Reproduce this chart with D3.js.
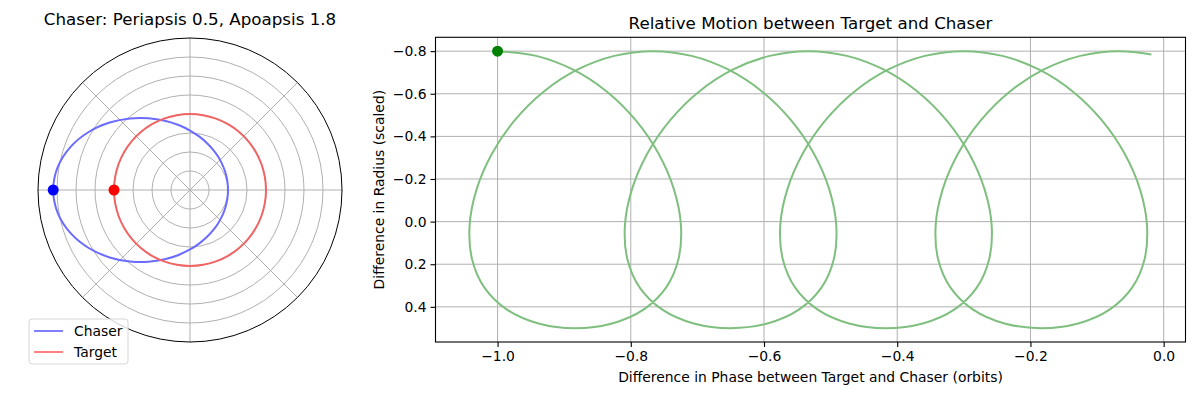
<!DOCTYPE html>
<html>
<head>
<meta charset="utf-8">
<script src="https://cdn.jsdelivr.net/npm/d3@7"></script>
<style>
  body { margin: 0; background: #fff; }
  svg { font-family: "DejaVu Sans", sans-serif; }
</style>
</head>
<body>
<div id="chart"></div>
<script>
// Polar plot data (angle in degrees, radius)
const orbitAngles = d3.range(0, 360, 10);
const chaserRadius = [0.5, 0.5028, 0.5111, 0.5254, 0.5461, 0.5740, 0.6102, 0.6558, 0.7127,
  0.7826, 0.8678, 0.9702, 1.0909, 1.2292, 1.3802, 1.5330, 1.6691, 1.7651,
  1.8, 1.7651, 1.6691, 1.5330, 1.3802, 1.2292, 1.0909, 0.9702, 0.8678,
  0.7826, 0.7127, 0.6558, 0.6102, 0.5740, 0.5461, 0.5254, 0.5111, 0.5028];
const targetRadius = orbitAngles.map(() => 1);
const chaserStart = { angle: 180, r: 1.8 };
const targetStart = { angle: 180, r: 1.0 };
const ringTicks = [0.25, 0.5, 0.75, 1.0, 1.25, 1.5, 1.75];
const spokeAngles = [0, 45, 90, 135, 180, 225, 270, 315];

// Relative motion data
const phaseDiff = [
  -1.0000, -0.9420, -0.8864, -0.8358, -0.7924, -0.7582, -0.7351, -0.7247, -0.7284, -0.7471, -0.7810, -0.8281,
  -0.8834, -0.9386, -0.9858, -1.0197, -1.0384, -1.0420, -1.0316, -1.0085, -0.9744, -0.9309, -0.8803, -0.8248,
  -0.7668, -0.7087, -0.6532, -0.6026, -0.5592, -0.5250, -0.5019, -0.4915, -0.4951, -0.5138, -0.5477, -0.5949,
  -0.6501, -0.7054, -0.7526, -0.7865, -0.8052, -0.8088, -0.7984, -0.7753, -0.7411, -0.6977, -0.6471, -0.5916,
  -0.5335, -0.4755, -0.4199, -0.3693, -0.3259, -0.2918, -0.2687, -0.2582, -0.2619, -0.2806, -0.3145, -0.3617,
  -0.4169, -0.4722, -0.5193, -0.5532, -0.5719, -0.5756, -0.5651, -0.5420, -0.5079, -0.4645, -0.4139, -0.3583,
  -0.3003, -0.2422, -0.1867, -0.1361, -0.0927, -0.0585, -0.0354, -0.0250, -0.0286, -0.0474, -0.0813, -0.1284,
  -0.1837, -0.2389, -0.2861, -0.3200, -0.3387, -0.3423, -0.3319, -0.3088, -0.2746, -0.2312, -0.1806, -0.1251,
  -0.0670, -0.0184];
const radiusDiff = [
  -0.8000, -0.7779, -0.7129, -0.6096, -0.4750, -0.3182, -0.1500, 0.0182, 0.1750, 0.3096, 0.4129, 0.4779,
  0.5000, 0.4779, 0.4129, 0.3096, 0.1750, 0.0182, -0.1500, -0.3182, -0.4750, -0.6096, -0.7129, -0.7779,
  -0.8000, -0.7779, -0.7129, -0.6096, -0.4750, -0.3182, -0.1500, 0.0182, 0.1750, 0.3096, 0.4129, 0.4779,
  0.5000, 0.4779, 0.4129, 0.3096, 0.1750, 0.0182, -0.1500, -0.3182, -0.4750, -0.6096, -0.7129, -0.7779,
  -0.8000, -0.7779, -0.7129, -0.6096, -0.4750, -0.3182, -0.1500, 0.0182, 0.1750, 0.3096, 0.4129, 0.4779,
  0.5000, 0.4779, 0.4129, 0.3096, 0.1750, 0.0182, -0.1500, -0.3182, -0.4750, -0.6096, -0.7129, -0.7779,
  -0.8000, -0.7779, -0.7129, -0.6096, -0.4750, -0.3182, -0.1500, 0.0182, 0.1750, 0.3096, 0.4129, 0.4779,
  0.5000, 0.4779, 0.4129, 0.3096, 0.1750, 0.0182, -0.1500, -0.3182, -0.4750, -0.6096, -0.7129, -0.7779,
  -0.8000, -0.7845];
const xTicks = [-1.0, -0.8, -0.6, -0.4, -0.2, 0.0];
const yTicks = [-0.8, -0.6, -0.4, -0.2, 0.0, 0.2, 0.4];

const svg = d3.select("#chart").append("svg")
  .attr("width", 1200).attr("height", 400);

const gridColor = "#b0b0b0";

// ---------- Left: polar plot ----------
const cx = 190, cy = 190, outerR = 152;
const r = d3.scaleLinear().domain([0, 2]).range([0, outerR]);
const toRad = deg => (90 - deg) * Math.PI / 180; // matplotlib angle -> d3 radial angle

const polar = svg.append("g").attr("transform", `translate(${cx},${cy})`);

polar.selectAll("circle.ring")
  .data(ringTicks)
  .join("circle")
  .attr("class", "ring")
  .attr("r", d => r(d))
  .attr("fill", "none")
  .attr("stroke", gridColor)
  .attr("stroke-width", 1);

polar.selectAll("line.spoke")
  .data(spokeAngles)
  .join("line")
  .attr("class", "spoke")
  .attr("x1", 0).attr("y1", 0)
  .attr("x2", d => outerR * Math.cos(d * Math.PI / 180))
  .attr("y2", d => -outerR * Math.sin(d * Math.PI / 180))
  .attr("stroke", gridColor)
  .attr("stroke-width", 1);

polar.append("circle")
  .attr("r", outerR)
  .attr("fill", "none")
  .attr("stroke", "#000")
  .attr("stroke-width", 1);

const radial = d3.lineRadial()
  .angle(d => toRad(d[0]))
  .radius(d => r(d[1]))
  .curve(d3.curveCatmullRomClosed);

polar.append("path")
  .attr("d", radial(orbitAngles.map((a, i) => [a, chaserRadius[i]])))
  .attr("fill", "none")
  .attr("stroke", "#6b6bff")
  .attr("stroke-width", 2);

polar.append("path")
  .attr("d", radial(orbitAngles.map((a, i) => [a, targetRadius[i]])))
  .attr("fill", "none")
  .attr("stroke", "#f06464")
  .attr("stroke-width", 2);

const polarPoint = p => d3.pointRadial(toRad(p.angle), r(p.r));
[[chaserStart, "#0000ff"], [targetStart, "#ff0000"]].forEach(([p, c]) => {
  const [px, py] = polarPoint(p);
  polar.append("circle").attr("cx", px).attr("cy", py).attr("r", 5.5).attr("fill", c);
});

svg.append("text")
  .attr("x", cx).attr("y", 25)
  .attr("text-anchor", "middle")
  .attr("font-size", 16.7)
  .text("Chaser: Periapsis 0.5, Apoapsis 1.8");

// legend
const legend = svg.append("g").attr("transform", "translate(29,319)");
legend.append("rect")
  .attr("width", 99).attr("height", 45)
  .attr("rx", 3)
  .attr("fill", "#fff").attr("fill-opacity", 0.8)
  .attr("stroke", "#d6d6d6");
[["Chaser", "#8080ff"], ["Target", "#ff8080"]].forEach(([label, c], i) => {
  const ly = 12 + i * 21;
  legend.append("line")
    .attr("x1", 5).attr("x2", 34).attr("y1", ly).attr("y2", ly)
    .attr("stroke", c).attr("stroke-width", 2);
  legend.append("text")
    .attr("x", 45).attr("y", ly + 5)
    .attr("font-size", 13.9)
    .text(label);
});

// ---------- Right: relative motion ----------
const margin = { left: 435.5, top: 37.3, right: 1185.5, bottom: 342 };
const pad = (ext) => { const d = (ext[1] - ext[0]) * 0.05; return [ext[0] - d, ext[1] + d]; };

const x = d3.scaleLinear().domain(pad(d3.extent(phaseDiff))).range([margin.left, margin.right]);
// inverted y: smaller values at the top
const y = d3.scaleLinear().domain(pad(d3.extent(radiusDiff))).range([margin.top, margin.bottom]);

const plot = svg.append("g");

plot.selectAll("line.xgrid")
  .data(xTicks)
  .join("line")
  .attr("x1", d => x(d)).attr("x2", d => x(d))
  .attr("y1", margin.top).attr("y2", margin.bottom)
  .attr("stroke", gridColor).attr("stroke-width", 1);

plot.selectAll("line.ygrid")
  .data(yTicks)
  .join("line")
  .attr("y1", d => y(d)).attr("y2", d => y(d))
  .attr("x1", margin.left).attr("x2", margin.right)
  .attr("stroke", gridColor).attr("stroke-width", 1);

const line = d3.line()
  .x(d => x(d[0]))
  .y(d => y(d[1]))
  .curve(d3.curveCatmullRom);

plot.append("path")
  .attr("d", line(phaseDiff.map((p, i) => [p, radiusDiff[i]])))
  .attr("fill", "none")
  .attr("stroke", "#7fbf7f")
  .attr("stroke-width", 2);

plot.append("circle")
  .attr("cx", x(phaseDiff[0])).attr("cy", y(radiusDiff[0]))
  .attr("r", 5.5).attr("fill", "#008000");

const fmt = d3.format(".1f");
const xAxis = svg.append("g")
  .attr("transform", `translate(0,${margin.bottom})`)
  .call(d3.axisBottom(x).tickValues(xTicks).tickFormat(fmt).tickSizeOuter(0).tickSize(5).tickPadding(4));
const yAxis = svg.append("g")
  .attr("transform", `translate(${margin.left},0)`)
  .call(d3.axisLeft(y).tickValues(yTicks).tickFormat(fmt).tickSizeOuter(0).tickSize(5).tickPadding(4));
[xAxis, yAxis].forEach(a => {
  a.select(".domain").remove();
  a.selectAll("text").attr("font-size", 13.9).attr("font-family", "DejaVu Sans").attr("fill", "#000");
  a.selectAll("line").attr("stroke", "#000").attr("stroke-width", 1.1);
});

svg.append("rect")
  .attr("x", margin.left).attr("y", margin.top)
  .attr("width", margin.right - margin.left).attr("height", margin.bottom - margin.top)
  .attr("fill", "none").attr("stroke", "#000").attr("stroke-width", 1.1);

svg.append("text")
  .attr("x", (margin.left + margin.right) / 2).attr("y", 29)
  .attr("text-anchor", "middle").attr("font-size", 16.7)
  .text("Relative Motion between Target and Chaser");

svg.append("text")
  .attr("x", (margin.left + margin.right) / 2).attr("y", 382)
  .attr("text-anchor", "middle").attr("font-size", 13.9)
  .text("Difference in Phase between Target and Chaser (orbits)");

svg.append("text")
  .attr("transform", `translate(384,${(margin.top + margin.bottom) / 2}) rotate(-90)`)
  .attr("text-anchor", "middle").attr("font-size", 13.9)
  .text("Difference in Radius (scaled)");
</script>
</body>
</html>
